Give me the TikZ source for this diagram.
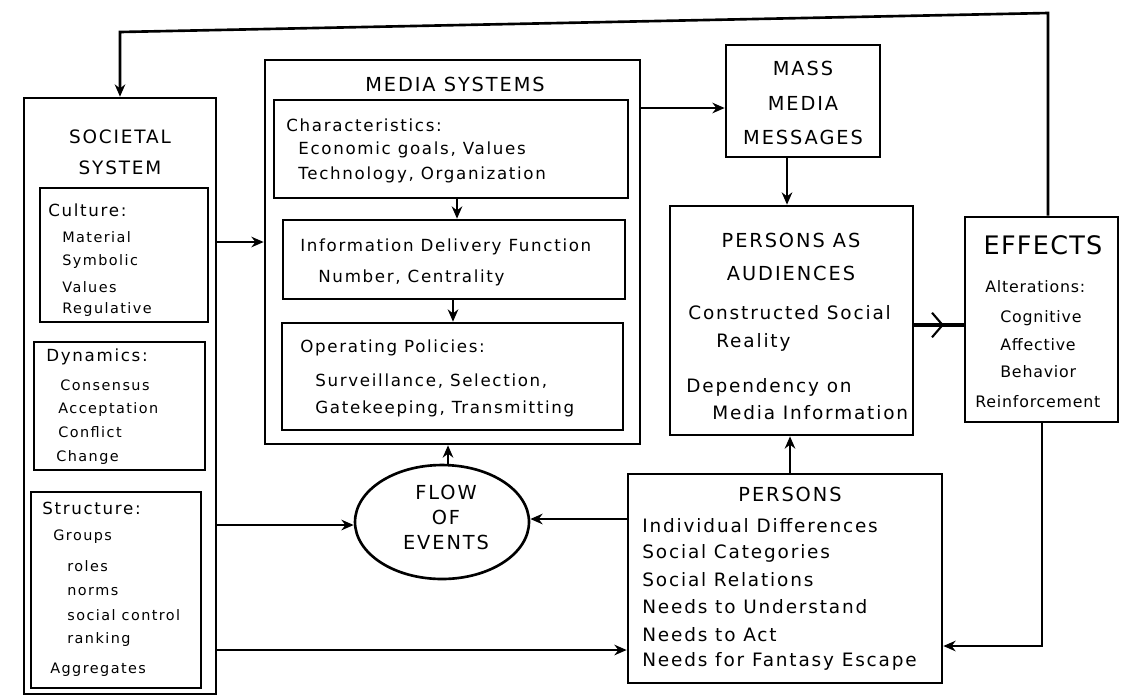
\documentclass[tikz,border=0pt]{standalone}
\usepackage{fontspec}
\setmainfont{DejaVu Sans}
\newfontfamily\lsfont[LetterSpace=10]{DejaVu Sans}
\newfontfamily\lsfontb[LetterSpace=5]{DejaVu Sans}
\usetikzlibrary{fit,shapes.geometric,arrows.meta,decorations.markings}
\tikzset{
  box/.style={draw, line width=1.5pt, inner sep=0pt, rectangle},
  arr/.style={line width=1.5pt, -{Stealth[length=7pt,width=6pt]}},
  head/.style={inner sep=0pt, align=center, font=\lsfont\fontsize{11}{19}\selectfont},
  sochead/.style={inner sep=0pt, align=center, font=\lsfont\fontsize{10.5}{17.6}\selectfont},
  bighead/.style={inner sep=0pt, font=\lsfontb\fontsize{14.5}{16}\selectfont},
  mtxt/.style={anchor=west, inner sep=0pt, font=\lsfont\fontsize{9.5}{12}\selectfont},
  ptxt/.style={anchor=west, inner sep=0pt, font=\lsfont\fontsize{10.5}{12}\selectfont},
  stxt/.style={anchor=west, inner sep=0pt, font=\lsfont\fontsize{8.2}{10}\selectfont},
  shd/.style={anchor=west, inner sep=0pt, font=\lsfont\fontsize{9.5}{12}\selectfont},
  etxt/.style={anchor=west, inner sep=0pt, font=\lsfontb\fontsize{9}{11}\selectfont},
}
\begin{document}
\begin{tikzpicture}[x=0.02cm, y=-0.02cm]
\useasboundingbox (0,0) rectangle (1122,698);

% ---------- Societal system ----------
\node[box, fit={(24,98) (216,694)}] (soc) {};
\node[sochead] (soct) at (120,152) {SOCIETAL\\SYSTEM};
\node[box, fit={(40,188) (208,322)}] (cul) {};
\node[shd] (cul0) at (48,210) {Culture:};
\node[stxt] (cul1) at (62,237) {Material};
\node[stxt] (cul2) at (62,262) {Symbolic};
\node[stxt] (cul3) at (62,287) {Values};
\node[stxt] (cul4) at (62,310) {Regulative};
\node[box, fit={(34,342) (205,470)}] (dyn) {};
\node[shd] (dyn0) at (46,357) {Dynamics:};
\node[stxt] (dyn1) at (60,385) {Consensus};
\node[stxt] (dyn2) at (58,410) {Acceptation};
\node[stxt] (dyn3) at (58,432) {Conflict};
\node[stxt] (dyn4) at (56,458) {Change};
\node[box, fit={(31,492) (201,688)}] (str) {};
\node[shd] (str0) at (42,508) {Structure:};
\node[stxt] (str1) at (53,537) {Groups};
\node[stxt] (str2) at (67,566) {roles};
\node[stxt] (str3) at (67,592) {norms};
\node[stxt] (str4) at (67,615) {social control};
\node[stxt] (str5) at (67,640) {ranking};
\node[stxt] (str6) at (50,670) {Aggregates};

% ---------- Media systems ----------
\node[box, fit={(265,60) (640,444)}] (ms) {};
\node[head] (mst) at (455,84) {MEDIA SYSTEMS};
\node[box, fit={(274,100) (628,198)}] (ch) {};
\node[mtxt] (ch0) at (286,125) {Characteristics:};
\node[mtxt] (ch1) at (298,150) {Economic goals, Values};
\node[mtxt] (ch2) at (298,175) {Technology, Organization};
\node[box, fit={(283,220) (625,299)}] (inf) {};
\node[mtxt] (inf0) at (300,247) {Information Delivery Function};
\node[mtxt] (inf1) at (318,278) {Number, Centrality};
\node[box, fit={(282,323) (623,430)}] (op) {};
\node[mtxt] (op0) at (300,348) {Operating Policies:};
\node[mtxt] (op1) at (315,381) {Surveillance, Selection,};
\node[mtxt] (op2) at (315,409) {Gatekeeping, Transmitting};

% ---------- Mass media messages ----------
\node[box, fit={(726,45) (880,157)}] (mm) {};
\node[head, font=\lsfont\fontsize{11}{19.5}\selectfont] (mmt) at (803,103) {MASS\\MEDIA\\MESSAGES};

% ---------- Persons as audiences ----------
\node[box, fit={(670,206) (913,435)}] (pa) {};
\node[head, font=\lsfont\fontsize{11}{18.7}\selectfont] (pat) at (791,257) {PERSONS AS\\AUDIENCES};
\node[ptxt] (pa1) at (688,313) {Constructed Social};
\node[ptxt] (pa2) at (716,342) {Reality};
\node[ptxt] (pa3) at (686,387) {Dependency on};
\node[ptxt] (pa4) at (712,413) {Media Information};

% ---------- Effects ----------
\node[box, fit={(965,217) (1118,422)}] (eff) {};
\node[bighead] (efft) at (1043,245) {EFFECTS};
\node[etxt] (eff0) at (985,287) {Alterations:};
\node[etxt] (eff1) at (1000,318) {Cognitive};
\node[etxt] (eff2) at (1000,345) {Affective};
\node[etxt] (eff3) at (1000,372) {Behavior};
\node[etxt] (eff4) at (975,402) {Reinforcement};

% ---------- Flow of events ----------
\node[draw, ellipse, line width=1.5pt, minimum width=3.48cm, minimum height=2.28cm, inner sep=0pt] (flow) at (442,522) {};
\node[head, font=\lsfont\fontsize{11}{14.2}\selectfont] (flowt) at (446,517) {FLOW\\OF\\EVENTS};

% ---------- Persons ----------
\node[box, fit={(628,474) (942,683)}] (per) {};
\node[head] (pert) at (790,494) {PERSONS};
\node[ptxt] (per1) at (642,526) {Individual Differences};
\node[ptxt] (per2) at (642,553) {Social Categories};
\node[ptxt] (per3) at (642,580) {Social Relations};
\node[ptxt] (per4) at (642,607) {Needs to Understand};
\node[ptxt] (per5) at (642,635) {Needs to Act};
\node[ptxt] (per6) at (642,661) {Needs for Fantasy Escape};

% ---------- helper coordinates ----------
\coordinate (tr) at (1048,13);
\coordinate (tl) at (120,32);
\coordinate (hSM) at (0,242);
\coordinate (hMM) at (0,108);
\coordinate (hPE) at (0,325);
\coordinate (hSF) at (0,525);
\coordinate (hPF) at (0,519);
\coordinate (hSP) at (0,650);
\coordinate (hEP) at (0,646);
\coordinate (vCI) at (457,0);
\coordinate (vIO) at (453,0);
\coordinate (vMP) at (787,0);
\coordinate (vPP) at (790,0);
\coordinate (vFM) at (448,0);
\coordinate (vEB) at (1042,0);

% ---------- connectors ----------
\draw[arr] (eff.north -| tr) -- (tr) -- (tl) -- (soc.north -| tl);
\draw[arr] (soc.east |- hSM) -- (ms.west |- hSM);
\draw[arr] (ch.south -| vCI) -- (inf.north -| vCI);
\draw[arr] (inf.south -| vIO) -- (op.north -| vIO);
\draw[arr] (ms.east |- hMM) -- (mm.west |- hMM);
\draw[arr] (mm.south -| vMP) -- (pa.north -| vMP);
\draw[line width=2.6pt, postaction={decorate},
  decoration={markings, mark=at position 0.6 with {\arrow[line width=1.2pt]{Straight Barb[length=6pt,width=14pt]}}}]
  (pa.east |- hPE) -- (eff.west |- hPE);
\draw[arr] (eff.south -| vEB) -- (vEB |- hEP) -- (per.east |- hEP);
\draw[arr] (per.north -| vPP) -- (pa.south -| vPP);
\draw[arr] (per.west |- hPF) -- (flow.east |- hPF);
\draw[arr] (soc.east |- hSF) -- (flow.west |- hSF);
\draw[arr] (flow.north -| vFM) -- (ms.south -| vFM);
\draw[arr] (soc.east |- hSP) -- (per.west |- hSP);
\end{tikzpicture}
\end{document}
